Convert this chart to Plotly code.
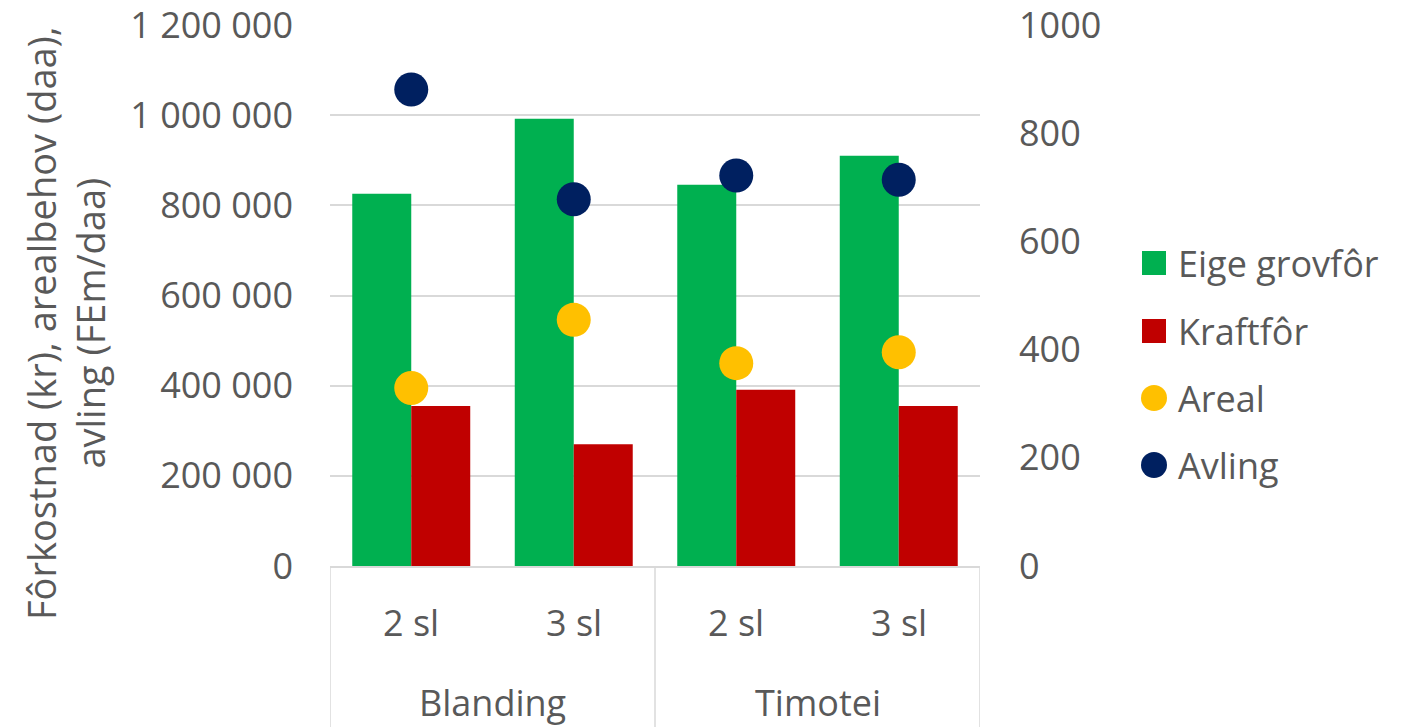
import plotly.graph_objects as go

# Data
groups = ["Blanding", "Timotei"]
cuts = ["2 sl", "3 sl"]
categories = [f"{g} {c}" for g in groups for c in cuts]
eige_grovfor = [826000, 992000, 846000, 910000]   # kr
kraftfor = [355000, 270000, 391000, 355000]       # kr
areal = [329, 455, 375, 395]                      # daa
avling = [881, 678, 722, 714]                     # FEm/daa
left_ticks = [0, 200000, 400000, 600000, 800000, 1000000, 1200000]
left_tick_text = ["0", "200 000", "400 000", "600 000", "800 000", "1 000 000", "1 200 000"]
right_ticks = [0, 200, 400, 600, 800, 1000]

GREEN = "#00B050"
RED = "#C00000"
YELLOW = "#FFC000"
NAVY = "#002060"
TEXT = "#595959"
GRID = "#D9D9D9"
FONT = "Open Sans"
FS = 36

W, H = 1409, 727
ML, MR, MT, MB = 330, 429, 25, 161
PW, PH = W - ML - MR, H - MT - MB


def px_x(px):
    return (px - ML) / PW


def px_y(py):
    return (H - MB - py) / PH


fig = go.Figure()
fig.add_trace(go.Bar(x=categories, y=eige_grovfor, name="Eige grovfôr",
                     marker=dict(color=GREEN, line=dict(width=0))))
fig.add_trace(go.Bar(x=categories, y=kraftfor, name="Kraftfôr",
                     marker=dict(color=RED, line=dict(width=0))))
fig.add_trace(go.Scatter(x=categories, y=areal, name="Areal", mode="markers", yaxis="y2",
                         marker=dict(color=YELLOW, size=34, line=dict(width=0))))
fig.add_trace(go.Scatter(x=categories, y=avling, name="Avling", mode="markers", yaxis="y2",
                         marker=dict(color=NAVY, size=34, line=dict(width=0))))

shapes = []
annotations = []

# Two-level category axis: cut labels, group labels and dividers
for i, cat in enumerate(categories):
    annotations.append(dict(text=cat.split(" ", 1)[1], xref="x", yref="paper",
                            x=cat, y=px_y(622), xanchor="center", yanchor="middle",
                            showarrow=False, font=dict(family=FONT, size=FS, color=TEXT)))
n_cut = len(cuts)
for gi, g in enumerate(groups):
    annotations.append(dict(text=g, xref="x", yref="paper",
                            x=gi * n_cut + (n_cut - 1) / 2, y=px_y(703),
                            xanchor="center", yanchor="middle", showarrow=False,
                            font=dict(family=FONT, size=FS, color=TEXT)))
for k in range(len(groups) + 1):
    xd = k * n_cut - 0.5
    shapes.append(dict(type="line", xref="x", yref="paper", x0=xd, x1=xd,
                       y0=0, y1=px_y(H), line=dict(color=GRID, width=1.5)))

# Legend at the right of the plot
legend_items = [("Eige grovfôr", GREEN, "rect", 263),
                ("Kraftfôr", RED, "rect", 331),
                ("Areal", YELLOW, "circle", 398),
                ("Avling", NAVY, "circle", 465)]
for label, color, kind, cy in legend_items:
    half = 12 if kind == "rect" else 13
    cx = 1154
    shapes.append(dict(type=kind, xref="paper", yref="paper",
                       x0=px_x(cx - half), x1=px_x(cx + half),
                       y0=px_y(cy + half), y1=px_y(cy - half),
                       fillcolor=color, line=dict(width=0)))
    annotations.append(dict(text=label, xref="paper", yref="paper",
                            x=px_x(1176), y=px_y(cy), xanchor="left", yanchor="middle",
                            showarrow=False, font=dict(family=FONT, size=FS, color=TEXT)))

annotations.append(dict(text="Fôrkostnad (kr), arealbehov (daa),<br>avling (FEm/daa)",
                        xref="paper", yref="paper", x=px_x(65), y=px_y(323),
                        xanchor="center", yanchor="middle", textangle=-90,
                        showarrow=False, font=dict(family=FONT, size=38, color=TEXT)))

fig.update_layout(
    width=W, height=H,
    margin=dict(l=ML, r=MR, t=MT, b=MB, pad=0, autoexpand=False),
    paper_bgcolor="white", plot_bgcolor="white",
    barmode="group", bargap=0.274, bargroupgap=0,
    showlegend=False,
    font=dict(family=FONT, size=FS, color=TEXT),
    xaxis=dict(type="category", range=[-0.5, len(categories) - 0.5],
               showline=True, linecolor=GRID, linewidth=1.5,
               showticklabels=False, ticks="", showgrid=False, automargin=False),
    yaxis=dict(range=[0, 1200100], tickvals=left_ticks, ticktext=left_tick_text,
               showgrid=True, gridcolor=GRID, gridwidth=1.5, zeroline=False,
               showline=False, ticks="", ticklabelstandoff=36, automargin=False,
               ticklabeloverflow="allow",
               tickfont=dict(family=FONT, size=FS, color=TEXT)),
    yaxis2=dict(range=[0, 1000.08], tickvals=right_ticks, overlaying="y", side="right",
                showgrid=False, zeroline=False, showline=False, ticks="",
                ticklabelstandoff=38, automargin=False, ticklabeloverflow="allow",
                tickfont=dict(family=FONT, size=FS, color=TEXT)),
    shapes=shapes,
    annotations=annotations,
)

fig.write_html("out.html")
